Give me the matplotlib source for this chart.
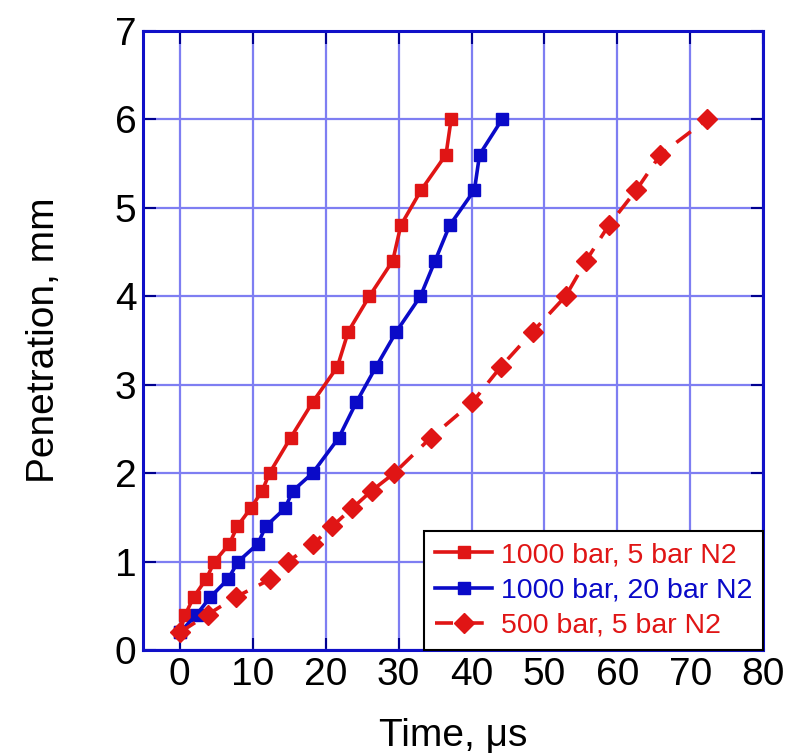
import matplotlib
matplotlib.use("Agg")
import matplotlib.pyplot as plt

plt.rcParams['font.family'] = ['Liberation Sans', 'DejaVu Sans']

# 1000 bar, 5 bar N2
t_a = [0, 0.75, 1.9, 3.6, 4.75, 6.8, 7.9, 9.7, 11.3, 12.3, 15.2, 18.2, 21.6,
       23.1, 26.0, 29.2, 30.3, 33.1, 36.5, 37.2]
p_a = [0.2, 0.4, 0.6, 0.8, 1.0, 1.2, 1.4, 1.6, 1.8, 2.0, 2.4, 2.8, 3.2,
       3.6, 4.0, 4.4, 4.8, 5.2, 5.6, 6.0]

# 1000 bar, 20 bar N2
t_b = [0, 2.3, 4.2, 6.6, 8.0, 10.7, 11.8, 14.4, 15.5, 18.2, 21.8, 24.2, 26.9,
       29.7, 33.0, 35.0, 37.0, 40.4, 41.1, 44.2]
p_b = [0.2, 0.4, 0.6, 0.8, 1.0, 1.2, 1.4, 1.6, 1.8, 2.0, 2.4, 2.8, 3.2,
       3.6, 4.0, 4.4, 4.8, 5.2, 5.6, 6.0]

# 500 bar, 5 bar N2
t_c = [0, 3.8, 7.7, 12.4, 14.8, 18.3, 20.9, 23.6, 26.3, 29.4, 34.4, 40.1, 44.0,
       48.4, 52.9, 55.7, 58.8, 62.6, 65.9, 72.3]
p_c = [0.2, 0.4, 0.6, 0.8, 1.0, 1.2, 1.4, 1.6, 1.8, 2.0, 2.4, 2.8, 3.2,
       3.6, 4.0, 4.4, 4.8, 5.2, 5.6, 6.0]

labels = ['1000 bar, 5 bar N2', '1000 bar, 20 bar N2', '500 bar, 5 bar N2']

red = '#e01515'
blue = '#0a0ac8'
frame = '#1010c8'

fig = plt.figure(figsize=(7.99, 7.55), dpi=100)
ax = fig.add_axes([0.1794, 0.139, 0.7759, 0.8203])

ax.plot(t_a, p_a, color=red, lw=2.6, marker='s', ms=8.5, label=labels[0])
ax.plot(t_b, p_b, color=blue, lw=2.6, marker='s', ms=8.5, label=labels[1])
ax.plot(t_c, p_c, color=red, lw=2.6, marker='D', ms=10, dashes=(5, 3.5),
        label=labels[2])

ax.set_xlim(-5, 80)
ax.set_ylim(0, 7)
ax.set_xticks(range(0, 81, 10))
ax.set_yticks(range(0, 8))
ax.grid(True, color='#7e7ef2', lw=1.6)
ax.set_axisbelow(True)

for s in ax.spines.values():
    s.set_color(frame)
    s.set_linewidth(2.2)

ax.tick_params(direction='in', length=9, width=1.5, color='#000090',
               top=True, right=True, labelsize=28, pad=5)

ax.set_xlabel('Time, μs', fontsize=28, labelpad=18)
ax.set_ylabel('Penetration, mm', fontsize=28, labelpad=38)

leg = ax.legend(loc='lower right', borderaxespad=0, fontsize=20.5,
                labelcolor='linecolor', fancybox=False, framealpha=1,
                edgecolor='black', handlelength=2.0, handletextpad=0.3,
                labelspacing=0.32, borderpad=0.4)
leg.get_frame().set_linewidth(1.5)

fig.savefig('out.png', dpi=100)
